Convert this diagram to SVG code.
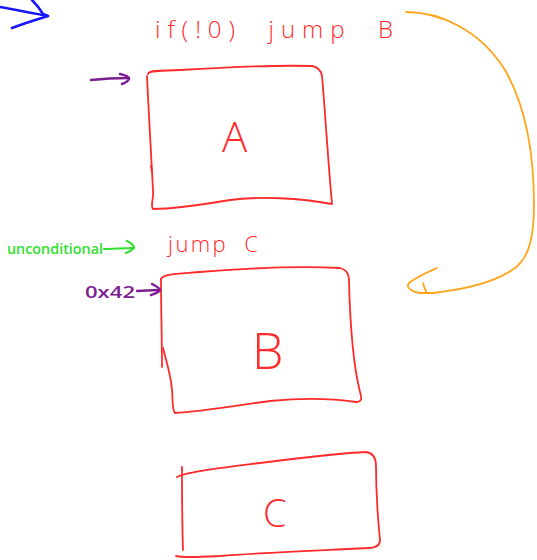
<svg xmlns="http://www.w3.org/2000/svg" width="537" height="560" viewBox="0 0 537 560">
  <style>
    .ink { fill: none; stroke-linecap: round; stroke-linejoin: round; }
    .red { stroke: #ff2a2a; stroke-width: 1.8; }
    .orange { stroke: #ffa41c; stroke-width: 1.8; }
    .green { stroke: #2fe02f; stroke-width: 2.2; }
    .purple { stroke: #7d1d92; stroke-width: 2.4; }
    .blue { stroke: #1616ff; stroke-width: 2.6; }
    .hand { font-family: "Open Sans", "Liberation Sans", sans-serif; font-weight: 300; }
    .lbl-red { fill: #ff2a2a; }
    .lbl-green { fill: #2fe02f; font-weight: 600; }
    .lbl-purple { fill: #7d1d92; font-weight: 600; }
    .big { font-family: "Open Sans", "Liberation Sans", sans-serif; font-weight: 300; fill: #ff2a2a; }
  </style>
  <rect width="537" height="560" fill="#ffffff"/>

  <!-- code block A -->
  <g id="node-A">
    <path class="ink red" d="M148,74 C149,70 160,71 180,70 C230,67 280,65 312,66 C318,67 321,70 322,76 C325,110 328,160 332,204 C300,198 260,196 230,200 C200,205 175,209 153,209 C150,205 154,200 153,190 C152,170 149,120 147,76"/>
    <path class="ink red" d="M151,166 L152,172"/>
    <text class="big" x="222" y="152" style="font-size:42px">A</text>
  </g>

  <!-- code block B -->
  <g id="node-B">
    <path class="ink red" d="M161,279 C163,274 175,274 200,272 C250,268 300,266 340,268 C347,270 349,274 349,282 C350,320 352,360 360,392 C362,398 362,402 356,402 C330,398 300,398 270,401 C240,405 200,412 175,413 C172,410 173,402 172,390 C171,375 166,360 163,348"/>
    <path class="ink red" d="M161,279 C161,310 162,340 162,367"/>
    <text class="big" x="252" y="369" style="font-size:50px">B</text>
  </g>

  <!-- code block C -->
  <g id="node-C">
    <path class="ink red" d="M177,477 C185,472 220,468 260,463 C300,458 340,453 366,452 C373,453 376,458 376,466 C376,490 378,520 380,540 C380,546 376,548 368,548 C330,550 270,552 220,556 C200,557 185,558 176,556"/>
    <path class="ink red" d="M182,467 C182,490 182,520 183,550"/>
    <text class="big" x="263" y="527" style="font-size:38px">C</text>
  </g>

  <!-- annotations and arrows -->
  <g id="connectors">
    <!-- conditional branch to B -->
    <path class="ink orange" d="M406,12 C440,12 480,30 505,70 C528,110 534,160 534,205 C534,240 528,258 515,268 C495,283 460,290 433,293"/>
    <path class="ink orange" d="M437,268 C428,272 418,276 409,283 C405,287 412,292 420,293 L433,293"/>
    <path class="ink orange" d="M423,283 C424,287 425,290 427,293"/>
    <!-- entry into A -->
    <path class="ink purple" d="M91,80 C100,79 115,78 129,78"/>
    <path class="ink purple" d="M120,74 C125,75 129,77 129,79 C128,81 125,83 122,84"/>
    <!-- 0x42 entry into B -->
    <path class="ink purple" d="M137,291 L158,290"/>
    <path class="ink purple" d="M152,284 C156,286 160,288 160,290 C158,293 154,294 151,295"/>
    <!-- unconditional arrow -->
    <path class="ink green" d="M104,249 C112,249 124,248 133,248"/>
    <path class="ink green" d="M127,241 C131,243 134,246 134,248 C132,250 129,252 126,253"/>
    <!-- incoming flow -->
    <path class="ink blue" d="M0,7 C15,10 33,13 48,16"/>
    <path class="ink blue" d="M32,0 C36,4 40,9 43,14 L48,16 C35,20 22,24 12,28"/>
  </g>

  <g id="labels" class="hand">
    <text class="lbl-red" x="155" y="38" style="font-size:24px" textLength="238" lengthAdjust="spacing" xml:space="preserve">if(!0)  jump  B</text>
    <text class="lbl-red" x="168" y="252" style="font-size:22px" textLength="90" lengthAdjust="spacing" xml:space="preserve">jump  C</text>
    <text class="lbl-green" x="7" y="254" style="font-size:15px" textLength="96" lengthAdjust="spacingAndGlyphs">unconditional</text>
    <text class="lbl-purple" x="85" y="298" style="font-size:16px" textLength="50" lengthAdjust="spacingAndGlyphs">0x42</text>
  </g>
</svg>
